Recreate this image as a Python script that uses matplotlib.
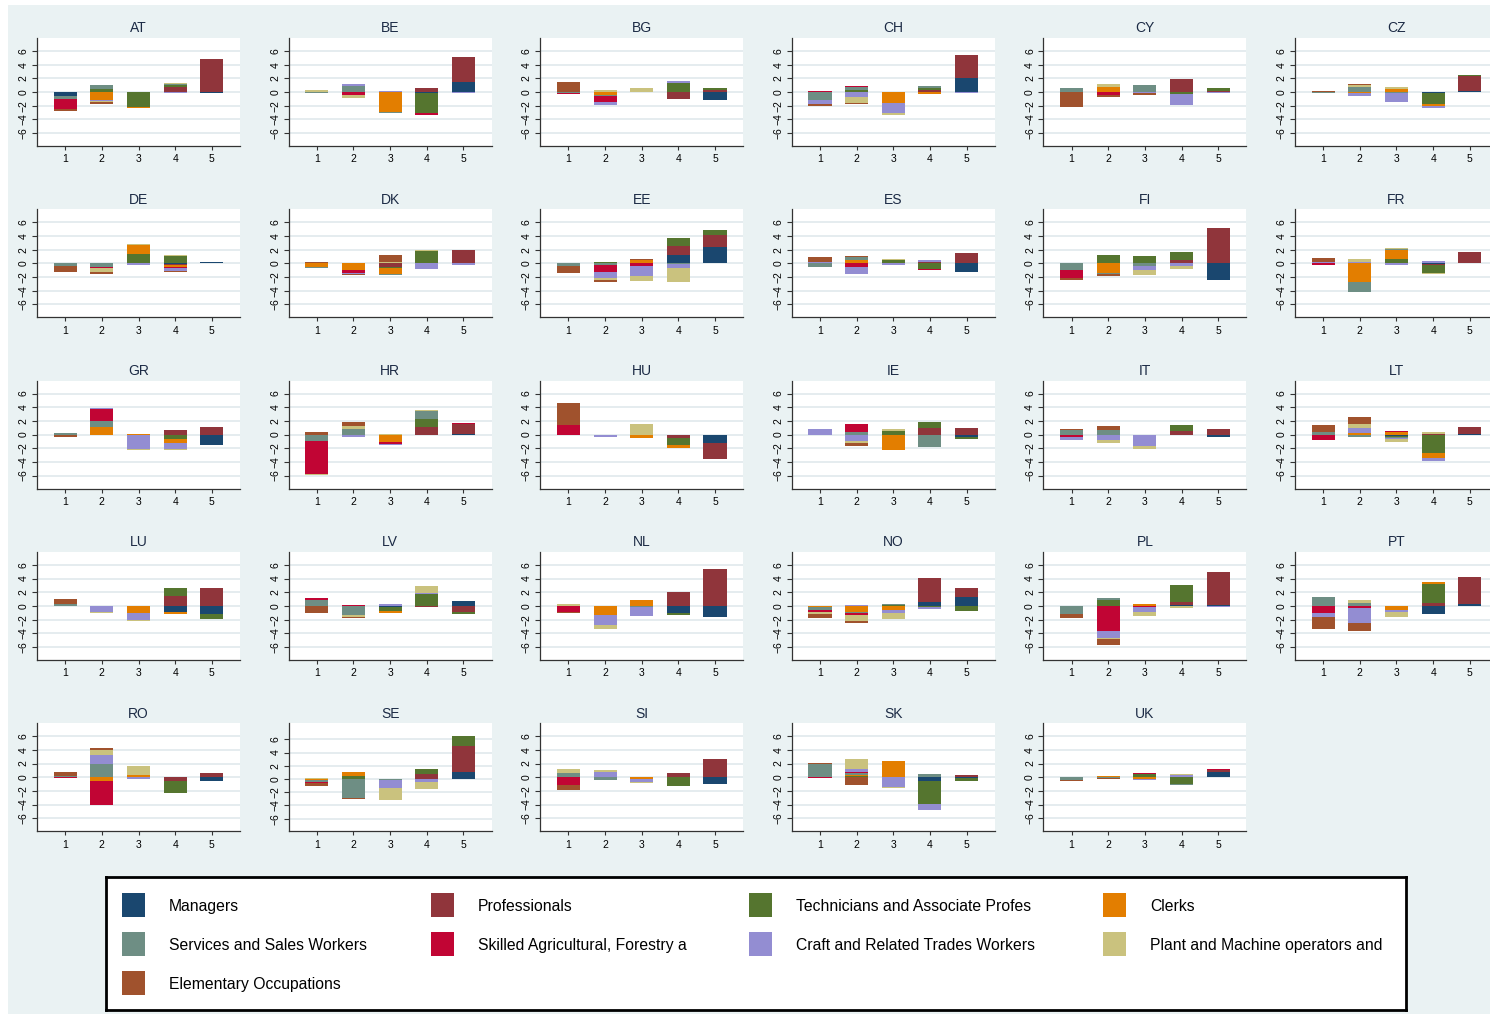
import numpy as np
import matplotlib
matplotlib.use("Agg")
import matplotlib.pyplot as plt
from matplotlib.patches import Rectangle


occupations = [
    "Managers",
    "Professionals",
    "Technicians and Associate Profes",
    "Clerks",
    "Services and Sales Workers",
    "Skilled Agricultural, Forestry a",
    "Craft and Related Trades Workers",
    "Plant and Machine operators and",
    "Elementary Occupations",
]

# stata s2color palette, one per occupation
colors = ["#1a476f", "#90353b", "#55752f", "#e37e00", "#6e8e84",
          "#c10534", "#938dd2", "#cac27e", "#a0522d"]

groups = [1, 2, 3, 4, 5]

# one row per group, columns in the order of `occupations`
AT = [[-0.6, 0, 0, 0, -0.45, -1.45, 0, -0.05, -0.3],
      [0, 0, 0.4, -1.15, 0.6, 0, -0.15, -0.15, -0.35],
      [0, 0, -2.2, -0.1, 0, 0, -0.1, 0.05, 0],
      [0, 0.7, 0.35, 0, 0.1, 0, -0.1, 0.15, 0],
      [-0.1, 4.9, 0, 0, 0, 0, 0, 0, 0]]
BE = [[-0.05, 0, 0, 0, -0.15, 0, 0, 0.3, 0],
      [0, 0, 0, 0, 0.9, -0.45, 0.3, -0.4, 0],
      [0, 0, 0, -2.9, -0.1, 0.05, 0.1, 0, 0],
      [-0.15, 0.6, -2.85, 0, 0, -0.35, 0, 0, 0],
      [1.45, 3.7, 0, 0, 0, 0, -0.1, 0, 0]]
BG = [[0, 0, 0, 0, -0.1, -0.2, 0, 0, 1.5],
      [0, 0, 0, -0.45, -0.15, -0.8, -0.55, 0.35, 0],
      [0, 0, 0, 0, 0, 0, 0, 0.55, 0],
      [0, -1.0, 1.3, 0, 0, 0, 0.3, 0, 0],
      [-1.1, 0.35, 0.25, 0, 0, 0, 0, 0, 0]]
CH = [[0, 0, 0, 0, -1.1, 0.1, -0.6, 0, -0.3],
      [0, 0, 0.3, 0, 0.5, 0.1, -0.8, -0.8, -0.15],
      [0, 0, 0, -1.55, 0, 0, -1.5, -0.35, 0],
      [0, 0.35, 0.3, -0.3, 0.3, 0, 0, 0, 0],
      [2.1, 3.35, 0, 0, 0, 0, -0.1, 0, 0]]
CY = [[0, 0, 0, 0, 0.65, 0, 0, 0, -2.2],
      [0, 0, 0, 0.8, 0, -0.5, 0, 0.4, -0.3],
      [0, 0, 0, 0, 1.05, 0, -0.1, 0, -0.35],
      [0, 1.85, -0.35, 0, 0, 0, -1.5, 0, 0],
      [0, 0.15, 0.45, 0, 0, 0, -0.1, 0, 0]]
CZ = [[0, 0, 0, 0, -0.15, 0, 0, 0, 0.1],
      [0, 0, 0, -0.15, 0.8, 0, -0.5, 0.25, 0.15],
      [0, 0, 0, 0.45, -0.2, 0, -1.25, 0.3, 0],
      [-0.1, -0.1, -1.6, -0.3, 0, 0, -0.2, 0, 0],
      [0.2, 2.2, 0.15, 0, 0, 0, 0, 0, 0]]
DE = [[0, 0, 0, 0, -0.4, 0, 0, 0, -0.85],
      [0, 0, 0, 0, -0.5, -0.2, -0.05, -0.5, -0.3],
      [0, 0, 1.4, 1.35, 0, 0, -0.25, 0.05, 0],
      [-0.1, -0.2, 1.1, -0.2, -0.1, -0.1, -0.45, 0.1, -0.1],
      [0.2, 0, 0, 0, 0, 0, 0, 0, 0]]
DK = [[0, 0, 0, -0.5, -0.2, 0, 0, 0, 0.25],
      [0, 0, 0, -1.0, 0, -0.35, -0.2, 0.05, -0.1],
      [0, -0.5, -0.15, -0.95, -0.1, 0, 0, 0.2, 0.95],
      [0.05, 0, 1.7, 0, 0, 0, -0.9, 0.15, 0],
      [0, 2.0, 0, 0, 0, 0, -0.3, 0, 0]]
EE = [[0, 0, 0, 0, -0.4, 0, 0, 0, -1.0],
      [0, 0, 0.2, 0, -0.25, -1.05, -0.85, -0.35, -0.3],
      [0, 0, 0, 0.55, 0, -0.35, -1.5, -0.7, 0.1],
      [1.25, 1.25, 1.2, 0, -0.05, 0, -0.6, -2.05, 0],
      [2.4, 1.8, 0.65, 0, 0, 0, 0, 0, 0]]
ES = [[0, 0, 0, 0, -0.5, 0, 0.2, 0, 0.75],
      [0, 0, 0, 0.45, 0.5, -0.55, -1.0, 0, 0.1],
      [0, 0, 0.45, 0, 0, 0, -0.3, 0.2, 0],
      [0, 0.25, -0.8, 0, 0, -0.15, 0.25, 0, 0],
      [-1.25, 1.45, 0, 0, 0, 0, 0, 0, 0]]
FI = [[0, 0, 0, 0, -0.95, -1.2, 0, 0, -0.3],
      [0, 0, 1.25, -1.4, -0.15, 0, 0, 0, -0.3],
      [0, 0, 1.0, 0, -0.35, 0, -0.6, -0.75, 0.05],
      [0, 0.45, 1.25, 0, 0, 0, -0.45, -0.45, 0],
      [-2.4, 5.15, 0, 0, 0, 0, 0, 0, 0]]
FR = [[0, 0, 0, 0, 0, -0.2, 0.25, 0, 0.55],
      [0, 0, 0, -2.75, -1.4, 0, 0.25, 0.4, 0],
      [0, 0, 0.65, 1.3, 0.1, 0, -0.25, 0.2, 0],
      [-0.1, -0.1, -1.2, 0, 0, 0, 0.35, -0.1, 0],
      [0, 1.6, 0, 0, 0, 0.1, 0, 0, 0]]
GR = [[0, 0, 0, 0, 0.3, 0, -0.1, 0, -0.3],
      [0, 0, 0, 1.05, 0.95, 1.8, 0.15, 0, 0],
      [0, 0, 0, 0.1, 0, 0, -2.15, -0.05, 0],
      [0, 0.7, -0.6, -0.6, 0, 0, -0.9, -0.1, 0],
      [-1.5, 1.15, 0, 0, 0, 0, 0, 0, 0]]
HR = [[0, 0, 0, 0, -0.9, -4.8, -0.05, -0.15, 0.45],
      [0, 0, 0, 0, 0.85, 0, -0.3, 0.45, 0.6],
      [0, 0, 0, -1.05, 0, -0.3, -0.1, 0.1, 0],
      [0, 1.15, 1.2, 0, 1.15, 0, 0, 0.1, 0],
      [0.15, 1.45, 0, 0, 0, 0.1, 0, 0, 0]]
HU = [[0, 0, 0, 0, 0, 1.45, 0, 0, 3.1],
      [0, 0, 0, 0, 0, 0, -0.3, 0, 0],
      [0, 0, 0, -0.45, 0, 0, 0, 1.5, 0],
      [0, -0.45, -1.05, -0.4, 0, 0, 0, 0, 0],
      [-1.3, -2.2, 0, 0, 0, 0, 0, 0, 0]]
IE = [[0, 0, 0, 0, 0, 0, 0.85, 0, -0.1],
      [0, 0, 0, 0, 0.4, 1.2, -0.9, -0.4, -0.3],
      [0, 0, 0.55, -2.2, 0, 0, 0, 0.3, 0],
      [0, 1.0, 0.9, 0, -1.75, 0, 0, 0, 0],
      [-0.3, 1.0, -0.3, 0, 0, 0, 0, 0, 0]]
IT = [[0, 0, 0, 0, 0.7, -0.3, -0.45, 0, 0.15],
      [0, 0, 0, 0, 0.7, 0, -0.8, -0.4, 0.6],
      [0, 0, 0, 0, 0, 0, -1.6, -0.45, 0],
      [0, 0.5, 0.9, 0, -0.05, 0, 0, 0, 0],
      [-0.3, 0.85, 0, 0, 0, 0, 0, 0, 0]]
LT = [[0, 0, 0, 0, 0.4, -0.75, 0, 0, 1.05],
      [0, 0, 0, 0.2, -0.3, 0, 0.8, 0.6, 1.0],
      [-0.15, 0, -0.25, 0.45, -0.05, 0.1, -0.2, -0.4, 0],
      [0, 0.15, -2.7, -0.7, 0, 0, -0.4, 0.25, 0],
      [0.15, 1.0, 0, 0, 0, 0, 0, 0, 0]]
LU = [[0, 0, 0, 0, 0.35, 0, -0.05, 0, 0.6],
      [0, 0, 0, 0, 0.05, 0, -0.85, -0.15, -0.1],
      [0, 0, 0, -1.0, 0.05, 0, -1.0, -0.15, 0],
      [-0.85, 1.5, 1.15, -0.3, 0, 0, 0, 0, 0],
      [-1.2, 2.65, -0.65, 0, 0, 0, 0, 0, 0]]
LV = [[0, 0, 0, 0, 0.9, 0.25, 0, 0, -1.0],
      [0, 0, 0, 0, -1.3, 0.1, 0, -0.35, -0.15],
      [-0.15, 0, -0.55, -0.3, 0, 0, 0.35, 0, 0],
      [0, -0.1, 1.8, 0, 0, 0, 0.1, 0.95, 0],
      [0.75, -0.85, -0.3, 0, 0, 0, 0, 0, 0]]
NL = [[0, 0, 0, 0, 0, -0.85, 0, 0.3, -0.15],
      [0, 0, 0, -1.3, 0, 0, -1.55, -0.6, 0],
      [0, 0, 0, 0.9, -0.2, 0, -1.25, 0, 0],
      [-1.1, 2.05, -0.3, 0, 0, 0, 0, 0, 0],
      [-1.6, 5.45, 0, 0, 0, 0, 0, 0, 0]]
NO = [[0, 0, 0, -0.2, -0.4, -0.3, 0, -0.3, -0.5],
      [0, 0, 0, -0.85, -0.25, -0.2, 0.1, -0.9, -0.3],
      [0, 0, 0.15, -0.55, 0.1, 0, -0.45, -0.9, 0],
      [0.6, 3.55, -0.15, 0, 0, 0, -0.3, 0, 0],
      [1.3, 1.25, -0.75, 0, 0, 0.1, 0, 0, 0]]
PL = [[0, 0, 0, 0, -1.15, 0, 0, 0, -0.55],
      [0, 0, 0.85, 0, 0.3, -3.7, -1.0, -0.15, -0.9],
      [-0.05, 0, 0, 0.3, 0, -0.15, -0.75, -0.5, 0],
      [0.15, 0.45, 2.4, 0, 0, 0, 0, -0.3, 0],
      [0.15, 4.75, 0, 0, 0, 0, -0.1, 0, 0]]
PT = [[0, 0, 0, 0, 1.35, -1.0, -0.6, 0, -1.75],
      [0, 0, 0, 0, 0.45, -0.25, -2.25, 0.45, -1.1],
      [0, 0, 0, -0.55, 0, 0, -0.4, -0.65, 0],
      [-1.2, 0.45, 2.8, 0.3, 0, 0, 0, 0, 0],
      [0.35, 3.85, 0, 0, 0, 0, 0, 0, 0]]
RO = [[0, 0, 0, 0, 0.15, -0.1, 0, 0, 0.55],
      [0, 0, 0, -0.5, 2.0, -3.55, 1.3, 0.7, 0.3],
      [0, 0, 0, 0.25, 0, 0, -0.3, 1.35, 0],
      [0, -0.5, -1.8, 0, 0, 0, 0.1, 0, 0],
      [-0.55, 0.6, 0, 0, 0, 0, 0, 0, 0]]
SE = [[0, 0, 0, -0.1, -0.4, -0.15, 0, 0.1, -0.45],
      [0, 0, 0.5, 0.5, -2.8, 0, 0, 0, -0.2],
      [0, 0, 0, 0, -0.2, 0, -1.2, -1.75, 0],
      [0, 0.8, 0.65, 0, 0, 0, -0.5, -1.05, 0],
      [1.1, 3.85, 1.5, 0, 0, 0, 0, 0, 0]]
SI = [[0, 0, 0, 0, 0.55, -1.1, 0, 0.7, -0.8],
      [0, 0, 0, 0, -0.4, 0, 0.8, 0.3, 0],
      [0, 0, 0, -0.3, 0, 0.1, -0.35, -0.25, 0],
      [0, 0.65, -1.25, 0, 0, 0, 0, 0, 0],
      [-1.0, 2.6, 0, 0, 0, 0, 0, 0, 0]]
SK = [[0, 0, 0, 0, 2.0, -0.1, 0, 0, 0.1],
      [0, 0, 0.2, 0.05, 0.3, 0.25, 0.35, 1.45, -1.1],
      [0, 0, 0, 2.4, 0, 0, -1.45, -0.1, 0],
      [-0.55, 0.05, -3.35, 0, 0.45, 0, -0.85, 0, 0],
      [-0.15, 0.35, -0.35, 0, 0, 0, 0, 0, 0]]
UK = [[0, 0, 0, 0, -0.4, 0, 0, 0, -0.1],
      [0, 0, 0, 0.2, -0.1, 0, 0, 0, -0.2],
      [0, 0, 0.5, -0.3, 0, 0.1, -0.1, 0, 0],
      [0, 0, -0.95, 0, -0.25, 0, 0.35, 0.1, 0],
      [0.8, 0.25, 0, 0, 0, 0.1, 0, 0, 0]]

countries = ["AT", "BE", "BG", "CH", "CY", "CZ", "DE", "DK", "EE", "ES",
             "FI", "FR", "GR", "HR", "HU", "IE", "IT", "LT", "LU", "LV",
             "NL", "NO", "PL", "PT", "RO", "SE", "SI", "SK", "UK"]
country_values = [AT, BE, BG, CH, CY, CZ, DE, DK, EE, ES,
                  FI, FR, GR, HR, HU, IE, IT, LT, LU, LV,
                  NL, NO, PL, PT, RO, SE, SI, SK, UK]


W, H = 1490, 1014
BG_COLOR = "#eaf2f3"
TITLE_COLOR = "#1c2b45"
FONT = ["Liberation Sans", "DejaVu Sans"]

plt.rcParams["font.family"] = FONT


def px_axes(fig, left, top, width, height):
    return fig.add_axes([left / W, 1 - (top + height) / H, width / W, height / H])


def stacked_panel(ax, name, values):
    vals = np.array(values, dtype=float)
    x = np.array(groups)

    # positives stack up from 0, negatives stack down from 0
    pos = np.clip(vals, 0, None)
    neg = np.clip(vals, None, 0)
    pos_base = np.zeros(len(groups))
    neg_base = np.zeros(len(groups))
    for k in range(len(occupations)):
        ax.bar(x, pos[:, k], bottom=pos_base, width=0.63,
               color=colors[k], linewidth=0, zorder=2)
        ax.bar(x, neg[:, k], bottom=neg_base, width=0.63,
               color=colors[k], linewidth=0, zorder=2)
        pos_base += pos[:, k]
        neg_base += neg[:, k]

    top = max(7.9, pos_base.max() + 2.0)
    bottom = min(-7.9, neg_base.min() - 2.0)
    ax.set_ylim(bottom, top)
    ax.set_xlim(0.23, 5.77)

    ax.set_yticks([-6, -4, -2, 0, 2, 4, 6])
    ax.set_xticks(groups)
    ax.yaxis.grid(True, color="#e3ebee", linewidth=1.3, zorder=0)
    ax.set_axisbelow(True)

    for side in ["top", "right"]:
        ax.spines[side].set_visible(False)
    for side in ["left", "bottom"]:
        ax.spines[side].set_color("#333333")
        ax.spines[side].set_linewidth(0.9)

    ax.tick_params(axis="y", labelsize=7.5, length=3.5, width=0.8,
                   color="#333333", pad=2.5, labelrotation=90)
    ax.tick_params(axis="x", labelsize=7.5, length=3, width=0.8,
                   color="#333333", pad=3)
    for lbl in ax.get_yticklabels():
        lbl.set_verticalalignment("center")

    ax.set_title(name, fontsize=10, color=TITLE_COLOR, pad=4)


fig = plt.figure(figsize=(W / 100, H / 100), dpi=100, facecolor="white")

# light blue graph region with a thin white margin on the left/top
fig.add_artist(Rectangle((8 / W, 0), 1 - 8 / W, 1 - 5 / H,
                         transform=fig.transFigure, facecolor=BG_COLOR,
                         edgecolor="none", zorder=0))

for i, (name, values) in enumerate(zip(countries, country_values)):
    r, c = divmod(i, 6)
    ax = px_axes(fig, 37 + 251.6 * c, 38 + 171.3 * r, 203, 108)
    stacked_panel(ax, name, values)

# legend box drawn in pixel coordinates
lax = px_axes(fig, 106, 877, 1300, 133)
lax.set_xlim(106, 1406)
lax.set_ylim(1010, 877)
lax.set_xticks([])
lax.set_yticks([])
lax.set_facecolor("white")
for sp in lax.spines.values():
    sp.set_color("black")
    sp.set_linewidth(2)

swatch_x = [122, 431, 749, 1103]
text_x = [169, 478, 796, 1150]
row_y = [905, 944, 983]
for k, label in enumerate(occupations):
    r, c = divmod(k, 4)
    lax.add_patch(Rectangle((swatch_x[c], row_y[r] - 12), 23, 24,
                            facecolor=colors[k], edgecolor="none"))
    lax.text(text_x[c], row_y[r] + 1.5, label, fontsize=11.3, va="center",
             ha="left", color="black")

fig.savefig("out.png", dpi=100, facecolor=fig.get_facecolor())
